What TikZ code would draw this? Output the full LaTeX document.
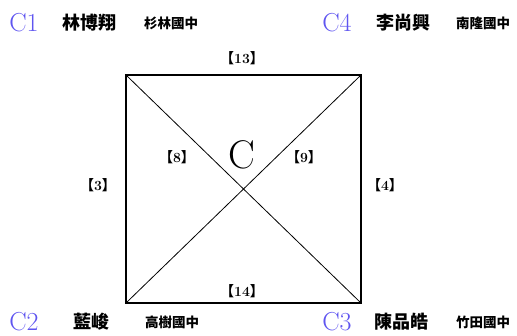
\documentclass[tikz,border=0pt]{standalone}
\usepackage{fontspec}
\usepackage{xcolor}
\newfontfamily\cjk{Noto Sans CJK TC}
\usetikzlibrary{positioning}
\definecolor{team}{RGB}{95,85,240}
\newcommand{\game}[1]{{\cjk\bfseries【}#1{\cjk\bfseries】}}

\begin{document}
\begin{tikzpicture}[x=1pt, y=-1pt,
  tag/.style={font=\fontsize{26}{26}\selectfont, text=team, inner sep=0pt},
  who/.style={font=\cjk\bfseries\fontsize{18}{18}\selectfont, inner sep=0pt},
  school/.style={font=\cjk\bfseries\fontsize{13.5}{13.5}\selectfont, inner sep=0pt},
  num/.style={font=\bfseries\fontsize{14}{14}\selectfont, inner sep=0pt},
  edge/.style={line width=2pt, line cap=rect},
  diag/.style={line width=0.8pt}]
  \useasboundingbox (0,0) rectangle (517,335);
  % corners of the square
  \coordinate (c1) at (126,75);
  \coordinate (c4) at (361,75);
  \coordinate (c2) at (126,303);
  \coordinate (c3) at (361,303);
  \draw[diag] (c1) -- (c3);
  \draw[diag] (c4) -- (c2);
  \draw[edge] (c1) -- (c4) -- (c3) -- (c2) -- cycle;
  % teams
  \node[tag] (t1) at (24,23) {C1};
  \node[who] (n1) at (89,23) {林博翔};
  \node[school] (s1) at (171,23) {杉林國中};
  \node[tag] (t4) at (337,23) {C4};
  \node[who] (n4) at (403,23) {李尚興};
  \node[school] (s4) at (483,23) {南隆國中};
  \node[tag] (t2) at (24,322) {C2};
  \node[who] (n2) at (91,322) {藍峻};
  \node[school] (s2) at (172,322) {高樹國中};
  \node[tag] (t3) at (337,322) {C3};
  \node[who] (n3) at (401,322) {陳品皓};
  \node[school] (s3) at (483,322) {竹田國中};
  % game numbers
  \node[num] (g13) at (242,58) {\game{13}};
  \node[num] (g3) at (98,185) {\game{3}};
  \node[num] (g4) at (385,185) {\game{4}};
  \node[num] (g8) at (177,157) {\game{8}};
  \node[num] (g9) at (304,157) {\game{9}};
  \node[num] (g14) at (242,291) {\game{14}};
  \node[font=\fontsize{40}{40}\selectfont, inner sep=0pt] (grp) at (242,155) {C};
\end{tikzpicture}
\end{document}
